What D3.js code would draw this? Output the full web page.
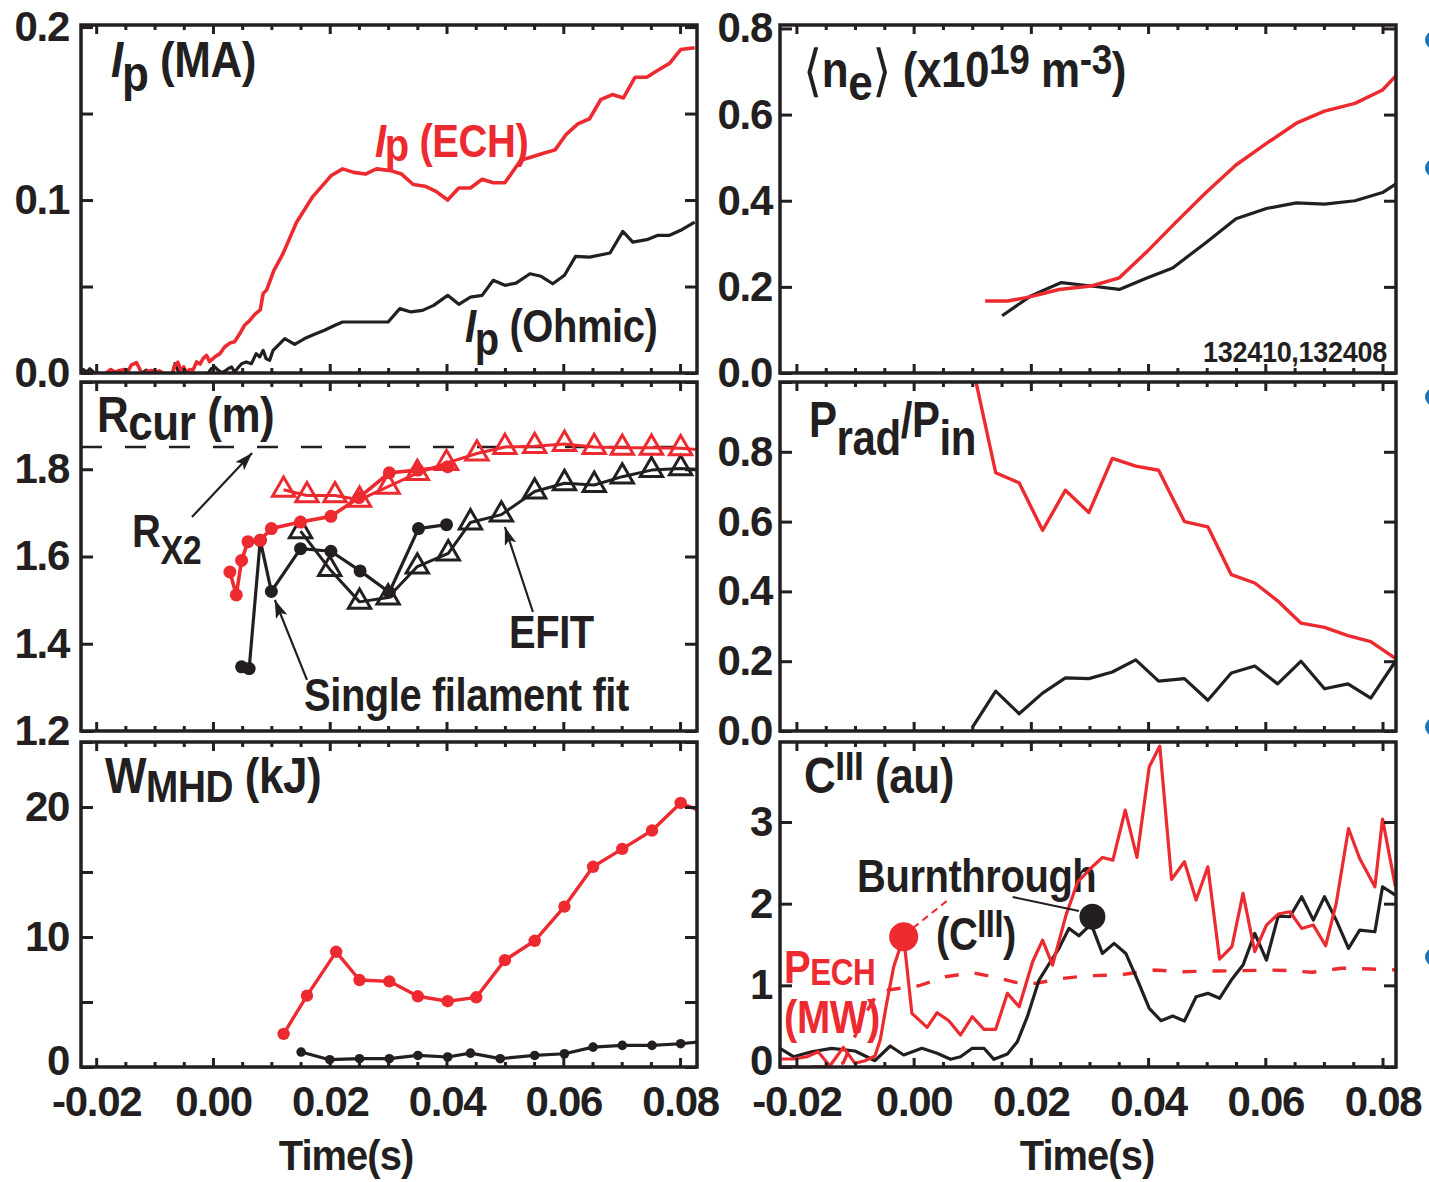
<!DOCTYPE html>
<html lang="en">
<head>
<meta charset="UTF-8">
<title>ECH vs Ohmic startup</title>
<script src="https://d3js.org/d3.v7.min.js"></script>
<style>
  body { margin: 0; background: #fff; }
  svg { display: block; }
  text { font-family: "Liberation Sans", Arial, Helvetica, sans-serif; }
</style>
</head>
<body>
<div id="chart"></div>
<script>
// ---- data: [time (s), value] ----
const ipECH = [[-0.0183,0.000],[-0.0175,0.002],[-0.0168,0.0005],[-0.016,0.0015],[-0.0151,0.002],[-0.0145,0.0012],[-0.014,0.0045],[-0.0131,0.006],[-0.0125,0.002],[-0.012,-0.0015],[-0.0113,0.0008],[-0.0105,0.0015],[-0.0098,0.0004],[-0.0092,0.0012],[-0.0088,0.0005],[-0.0083,-0.0015],[-0.0072,-0.002],[-0.0065,0.0045],[-0.006,0.0062],[-0.0054,0.0008],[-0.005,0.0035],[-0.0046,0.0004],[-0.004,0.002],[-0.0034,0.0018],[-0.0028,0.0064],[-0.0022,0.0052],[-0.0017,0.0083],[-0.0011,0.0102],[-0.0006,0.0066],[0.0003,0.0092],[0.0012,0.0112],[0.002,0.015],[0.0029,0.0173],[0.0037,0.018],[0.0046,0.0228],[0.0054,0.0276],[0.0062,0.030],[0.0072,0.034],[0.0081,0.0365],[0.0086,0.046],[0.0092,0.048],[0.0104,0.059],[0.012,0.069],[0.0143,0.087],[0.0171,0.102],[0.0202,0.114],[0.0222,0.118],[0.0241,0.116],[0.0261,0.115],[0.028,0.118],[0.0304,0.117],[0.0323,0.115],[0.0343,0.109],[0.0363,0.108],[0.0382,0.105],[0.0402,0.100],[0.0421,0.107],[0.0441,0.107],[0.0461,0.112],[0.048,0.110],[0.050,0.110],[0.0527,0.123],[0.0547,0.125],[0.0566,0.127],[0.0586,0.129],[0.0605,0.138],[0.0625,0.144],[0.0645,0.147],[0.0664,0.158],[0.0684,0.161],[0.0703,0.159],[0.0723,0.171],[0.0743,0.171],[0.0762,0.175],[0.0782,0.179],[0.0801,0.187],[0.0825,0.188]];
const ipOhmic = [[-0.0226,0.001],[-0.0222,0.002],[-0.0216,0.0005],[-0.0211,0.0025],[-0.0205,0.0006],[-0.020,-0.002],[-0.0125,-0.002],[-0.0118,0.0008],[-0.0114,0.0016],[-0.011,-0.001],[-0.007,-0.001],[-0.0065,0.0054],[-0.006,0.0016],[-0.0055,-0.001],[-0.001,-0.001],[-0.0003,0.0025],[0.0003,0.0035],[0.0009,0.0016],[0.0015,0.0002],[0.002,0.001],[0.0026,0.0025],[0.0032,0.0035],[0.0037,0.0006],[0.0043,0.003],[0.0049,0.0054],[0.0057,0.0064],[0.0066,0.0054],[0.0074,0.0112],[0.008,0.0093],[0.0086,0.0131],[0.0091,0.0083],[0.0097,0.0073],[0.0103,0.0131],[0.0123,0.0199],[0.014,0.0166],[0.0157,0.0199],[0.0174,0.0224],[0.0191,0.0247],[0.0209,0.0276],[0.0222,0.0295],[0.0265,0.0295],[0.030,0.0295],[0.032,0.0372],[0.0339,0.0353],[0.0359,0.0362],[0.0378,0.0391],[0.0402,0.0449],[0.0421,0.0397],[0.0441,0.0439],[0.0461,0.0449],[0.048,0.0536],[0.050,0.0507],[0.0519,0.052],[0.0543,0.0574],[0.0562,0.0559],[0.0582,0.0516],[0.0602,0.0565],[0.0621,0.0674],[0.0645,0.067],[0.068,0.0694],[0.0702,0.0819],[0.0719,0.0757],[0.0743,0.0771],[0.0762,0.0796],[0.0782,0.0796],[0.0801,0.0825],[0.0825,0.0873]];

const neECH = [[0.0122,0.167],[0.016,0.167],[0.0192,0.175],[0.0216,0.183],[0.0248,0.194],[0.0303,0.202],[0.0351,0.221],[0.0399,0.283],[0.0446,0.348],[0.0498,0.418],[0.055,0.483],[0.0602,0.533],[0.0653,0.580],[0.0701,0.608],[0.0753,0.626],[0.080,0.657],[0.0823,0.690]];
const neOhmic = [[0.0151,0.133],[0.020,0.179],[0.0252,0.210],[0.0303,0.202],[0.0351,0.194],[0.0399,0.221],[0.0442,0.244],[0.0498,0.302],[0.055,0.358],[0.0602,0.382],[0.0653,0.395],[0.0701,0.392],[0.0753,0.400],[0.080,0.419],[0.0823,0.439]];

const rcurFilECH = [[0.0029,1.5645],[0.004,1.512],[0.0049,1.591],[0.006,1.634],[0.0081,1.637],[0.010,1.664],[0.015,1.679],[0.0202,1.692],[0.025,1.735],[0.0302,1.792],[0.0351,1.798],[0.0402,1.806]];
const rcurFilOhmic = [[0.0049,1.347],[0.0062,1.343],[0.0081,1.637],[0.010,1.52],[0.015,1.618],[0.0202,1.612],[0.0252,1.567],[0.0302,1.518],[0.0352,1.664],[0.040,1.673]];
const rcurEfitECH = [[0.0121,1.753],[0.0161,1.74],[0.0209,1.74],[0.0251,1.73],[0.030,1.76],[0.035,1.791],[0.040,1.814],[0.0452,1.836],[0.050,1.851],[0.0551,1.853],[0.0602,1.858],[0.0653,1.851],[0.0701,1.849],[0.0751,1.849],[0.0801,1.848]];
const rcurEfitOhmic = [[0.015,1.658],[0.020,1.571],[0.0251,1.496],[0.030,1.506],[0.035,1.577],[0.0403,1.607],[0.0441,1.678],[0.0494,1.696],[0.0551,1.749],[0.0602,1.768],[0.0653,1.764],[0.0701,1.783],[0.0751,1.798],[0.0801,1.802]];
const rcurEfitTail = { ech: [0.0829,1.845], ohmic: [0.0829,1.800] };
const rX2 = 1.851;

const pradECH = [[0.010,1.05],[0.014,0.74],[0.018,0.711],[0.022,0.575],[0.0259,0.69],[0.0299,0.626],[0.0339,0.781],[0.0379,0.759],[0.0418,0.747],[0.0462,0.60],[0.0502,0.585],[0.0542,0.448],[0.0582,0.424],[0.0621,0.373],[0.0661,0.309],[0.0701,0.297],[0.0741,0.273],[0.078,0.256],[0.0823,0.207]];
const pradOhmic = [[0.010,0.0095],[0.014,0.114],[0.018,0.0495],[0.022,0.1086],[0.0259,0.152],[0.0299,0.15],[0.0339,0.169],[0.0379,0.204],[0.0418,0.143],[0.0462,0.15],[0.0502,0.088],[0.0542,0.166],[0.0582,0.186],[0.0621,0.135],[0.0661,0.20],[0.0701,0.121],[0.0741,0.135],[0.078,0.094],[0.0823,0.202]];

const wmhdECH = [[0.0121,2.55],[0.0161,5.49],[0.0211,8.86],[0.0251,6.69],[0.0302,6.59],[0.0351,5.44],[0.0402,5.06],[0.0451,5.36],[0.050,8.22],[0.0551,9.71],[0.0602,12.34],[0.0651,15.4],[0.0701,16.78],[0.0752,18.19],[0.0801,20.31]];
const wmhdOhmic = [[0.0151,1.15],[0.020,0.56],[0.0251,0.64],[0.0302,0.64],[0.0351,0.89],[0.0402,0.77],[0.0441,1.07],[0.0492,0.64],[0.0551,0.89],[0.0602,1.02],[0.0651,1.53],[0.0701,1.66],[0.0752,1.66],[0.0801,1.79]];
const wmhdTail = { ech: [0.0829,19.8], ohmic: [0.0829,1.92] };

const ciiiECH = [[-0.0225,0.098],[-0.0205,0.098],[-0.0182,0.126],[-0.0163,0.187],[-0.0143,0.012],[-0.012,0.24],[-0.010,0.045],[-0.0083,0.077],[-0.0066,0.134],[-0.0057,0.33],[-0.0046,0.78],[-0.0034,1.228],[-0.0017,1.595],[-0.0003,0.657],[0.0023,0.486],[0.004,0.665],[0.006,0.567],[0.008,0.392],[0.010,0.616],[0.012,0.461],[0.014,0.461],[0.016,0.902],[0.018,0.738],[0.0203,1.289],[0.022,1.554],[0.0237,1.248],[0.026,1.86],[0.028,2.268],[0.0302,2.432],[0.0322,2.566],[0.034,2.534],[0.0361,3.146],[0.0381,2.566],[0.0402,3.676],[0.042,3.93],[0.044,2.297],[0.0462,2.513],[0.0482,2.044],[0.0502,2.452],[0.0522,1.322],[0.0543,1.473],[0.0562,2.126],[0.0582,1.412],[0.0602,1.738],[0.0622,1.873],[0.0642,1.901],[0.0662,1.697],[0.0682,1.738],[0.0703,1.485],[0.0721,2.003],[0.0742,2.92],[0.0761,2.554],[0.0787,2.207],[0.080,3.035],[0.0822,2.207]];
const ciiiOhmic = [[-0.0228,0.229],[-0.0205,0.126],[-0.0174,0.187],[-0.014,0.229],[-0.010,0.196],[-0.0066,0.077],[-0.004,0.257],[-0.0017,0.147],[0.0014,0.229],[0.004,0.168],[0.0063,0.094],[0.008,0.126],[0.010,0.229],[0.012,0.229],[0.0137,0.094],[0.016,0.159],[0.0177,0.31],[0.0194,0.616],[0.0214,1.065],[0.0231,1.261],[0.0248,1.453],[0.0265,1.698],[0.0282,1.607],[0.0303,1.75],[0.0322,1.391],[0.0342,1.514],[0.0362,1.391],[0.0382,1.065],[0.0402,0.718],[0.0422,0.567],[0.0442,0.624],[0.0462,0.563],[0.0482,0.861],[0.0502,0.902],[0.0522,0.841],[0.0542,1.065],[0.0562,1.248],[0.0582,1.636],[0.0602,1.31],[0.0622,1.848],[0.0642,1.84],[0.0662,2.085],[0.0682,1.799],[0.0701,2.085],[0.0721,1.799],[0.0742,1.453],[0.0761,1.677],[0.0787,1.656],[0.080,2.207],[0.0822,2.105]];
const pECH = [[-0.0225,0],[-0.014,0],[-0.012,0.05],[-0.010,0.38],[-0.008,0.68],[-0.006,0.92],[-0.0048,0.94],[0.0009,0.995],[0.0054,1.105],[0.010,1.155],[0.014,1.097],[0.0174,1.036],[0.0208,1.024],[0.0254,1.085],[0.0297,1.118],[0.035,1.126],[0.041,1.187],[0.046,1.167],[0.051,1.175],[0.056,1.18],[0.061,1.187],[0.064,1.18],[0.068,1.16],[0.073,1.21],[0.078,1.2],[0.0822,1.19]];
const burnECH = [-0.0017, 1.595];
const burnOhmic = [0.0305, 1.84];

// ticks
const xMajor = [-0.02, 0, 0.02, 0.04, 0.06, 0.08];
const xMinor = d3.range(-20, 81, 5).filter(v => v % 20 !== 0).map(v => v / 1000);

const RED = '#ec2a2f', BLACK = '#231f20', BLUE = '#1b75bc';
const FONT = '"Liberation Sans", Arial, Helvetica, sans-serif';
const TITLE = { size: 50, sx: 0.88 };   // panel titles
const NOTE = { size: 47, sx: 0.85 };    // annotations

const svg = d3.select('#chart').append('svg').attr('width', 1429).attr('height', 1182);
const defs = svg.append('defs');
defs.append('marker').attr('id', 'ah')
  .attr('viewBox', '0 0 18 12').attr('refX', 18).attr('refY', 6)
  .attr('markerWidth', 18).attr('markerHeight', 12)
  .attr('markerUnits', 'userSpaceOnUse').attr('orient', 'auto')
  .append('path').attr('d', 'M0,0 L18,6 L0,12 L4,6 Z').attr('fill', BLACK);

const cols = [{ x0: 81, x1: 697, dom: [-0.0226, 0.0829], pad: 12 },
              { x0: 780, x1: 1396, dom: [-0.0228, 0.0823], pad: 8 }];
const rows = [{ y0: 25, y1: 373 }, { y0: 382, y1: 731 }, { y0: 742, y1: 1067 }];

let clipN = 0;
function panel(ci, ri, yDom, yTicks, yLabels, yFmt) {
  const c = cols[ci], r = rows[ri];
  const x = d3.scaleLinear().domain(c.dom).range([c.x0, c.x1]);
  const y = d3.scaleLinear().domain(yDom).range([r.y1, r.y0]);
  const id = 'clip' + (clipN++);
  defs.append('clipPath').attr('id', id).append('rect')
    .attr('x', c.x0).attr('y', r.y0).attr('width', c.x1 - c.x0).attr('height', r.y1 - r.y0);
  const text = svg.append('g');
  const plot = svg.append('g').attr('clip-path', `url(#${id})`);
  return { x, y, c, r, text, plot, yTicks, yLabels, yFmt, bottom: ri === 2 };
}

function drawAxes(p) {
  const { x, y, c, r } = p;
  const g = svg.append('g').attr('font-family', FONT);
  const lbl = d => p.yLabels.some(v => Math.abs(v - d) < 1e-9) ? p.yFmt(d) : '';
  const left = g.append('g').attr('transform', `translate(${c.x0},0)`)
    .call(d3.axisLeft(y).tickValues(p.yTicks).tickSize(-12).tickPadding(c.pad).tickFormat(lbl));
  g.append('g').attr('transform', `translate(${c.x1},0)`)
    .call(d3.axisRight(y).tickValues(p.yTicks).tickSize(-12).tickFormat(''));
  g.append('g').attr('transform', `translate(0,${r.y0})`)
    .call(d3.axisTop(x).tickValues(xMinor).tickSize(-5).tickFormat(''));
  g.append('g').attr('transform', `translate(0,${r.y0})`)
    .call(d3.axisTop(x).tickValues(xMajor).tickSize(-9).tickFormat(''));
  g.append('g').attr('transform', `translate(0,${r.y1})`)
    .call(d3.axisBottom(x).tickValues(xMinor).tickSize(-5).tickFormat(''));
  g.append('g').attr('transform', `translate(0,${r.y1})`)
    .call(d3.axisBottom(x).tickValues(xMajor).tickSize(-9).tickPadding(19)
      .tickFormat(p.bottom ? (d => d.toFixed(2)) : ''));
  g.selectAll('.domain').remove();
  g.selectAll('.tick line').attr('stroke', BLACK).attr('stroke-width', 3);
  g.selectAll('.tick text').attr('fill', BLACK).attr('font-size', 42)
    .attr('font-weight', 'bold').attr('letter-spacing', -1.3);
  // bottom-row zero label sits a little higher, clear of the time labels
  if (p.bottom) left.selectAll('.tick text').filter(d => d === y.domain()[0]).attr('dy', '0.18em');
  g.append('rect').attr('x', c.x0).attr('y', r.y0)
    .attr('width', c.x1 - c.x0).attr('height', r.y1 - r.y0)
    .attr('fill', 'none').attr('stroke', BLACK).attr('stroke-width', 3.5);
}

const lineGen = p => d3.line().x(d => p.x(d[0])).y(d => p.y(d[1]));
function line(p, data, color, w, dash) {
  p.plot.append('path').datum(data).attr('d', lineGen(p))
    .attr('fill', 'none').attr('stroke', color).attr('stroke-width', w)
    .attr('stroke-linejoin', 'round').attr('stroke-dasharray', dash || null);
}
function dots(p, data, color, r) {
  p.plot.selectAll(null).data(data).enter().append('circle')
    .attr('cx', d => p.x(d[0])).attr('cy', d => p.y(d[1])).attr('r', r).attr('fill', color);
}
function tris(p, data, color) {
  const sym = d3.symbol().type(d3.symbolTriangle).size(215);
  p.plot.selectAll(null).data(data).enter().append('path')
    .attr('d', sym).attr('transform', d => `translate(${p.x(d[0])},${p.y(d[1])})`)
    .attr('fill', 'none').attr('stroke', color).attr('stroke-width', 3);
}
function arrow(p, from, to) {
  svg.append('line')
    .attr('x1', p.x(from[0])).attr('y1', p.y(from[1]))
    .attr('x2', p.x(to[0])).attr('y2', p.y(to[1]))
    .attr('stroke', BLACK).attr('stroke-width', 2.2).attr('marker-end', 'url(#ah)');
}

// rich text: parts are strings or [string, {dy, size, italic, dx, font, weight}]
function rich(g, x, y, parts, o = {}) {
  const t = g.append('text')
    .attr('transform', `translate(${x},${y}) scale(${o.sx || 0.85},1)`)
    .attr('font-size', o.size || 46).attr('font-weight', 'bold')
    .attr('letter-spacing', o.ls == null ? -0.5 : o.ls)
    .attr('text-anchor', o.anchor || 'start')
    .attr('fill', o.fill || BLACK);
  let cur = 0;
  parts.forEach(part => {
    const [s, opt] = typeof part === 'string' ? [part, {}] : part;
    const off = opt.dy || 0;
    const sp = t.append('tspan').text(s).attr('dy', off - cur);
    cur = off;
    if (opt.size) sp.attr('font-size', opt.size);
    if (opt.italic) sp.attr('font-style', 'italic');
    if (opt.dx) sp.attr('dx', opt.dx);
    if (opt.font) sp.attr('font-family', opt.font);
    if (opt.weight) sp.attr('font-weight', opt.weight);
  });
  return t;
}

// ---- panel 1: Ip ----
const pIp = panel(0, 0, [0, 0.2012], [0, 0.05, 0.1, 0.15, 0.2], [0, 0.1, 0.2], d3.format('.1f'));
rich(pIp.text, 111, 77, [['I', { italic: true }], ['p', { dy: 14, dx: -1 }], [' (MA)', { dy: 0 }]], TITLE);
rich(pIp.text, 375, 157, [['I', { italic: true }], ['p', { dy: 4, dx: -1 }], [' (ECH)', { dy: 0 }]], { ...NOTE, fill: RED });
rich(pIp.text, 465, 342, [['I', { italic: true }], ['p', { dy: 13, dx: -1 }], [' (Ohmic)', { dy: 0 }]], NOTE);
line(pIp, ipOhmic, BLACK, 3.2);
line(pIp, ipECH, RED, 3.6);
drawAxes(pIp);

// ---- panel 2: <ne> ----
const pNe = panel(1, 0, [0, 0.808], [0, 0.2, 0.4, 0.6, 0.8], [0, 0.2, 0.4, 0.6, 0.8], d3.format('.1f'));
rich(pNe.text, 803, 87, [
  ['\u27E8', { font: '"DejaVu Sans"', weight: 'normal', size: 56, dy: 3 }],
  ['n', { dy: 0 }], ['e', { dy: 13 }],
  ['\u27E9', { font: '"DejaVu Sans"', weight: 'normal', size: 56, dy: 3 }],
  [' (x10', { dy: 0 }], ['19', { dy: -13, size: 42 }],
  [' m', { dy: 0 }], ['-3', { dy: -13, size: 42 }], [')', { dy: 0 }]], TITLE);
rich(pNe.text, 1387, 362, ['132410,132408'], { size: 30, sx: 0.9, anchor: 'end', ls: -0.3 });
line(pNe, neOhmic, BLACK, 3.2);
line(pNe, neECH, RED, 3.5);
drawAxes(pNe);

// ---- panel 3: Rcur ----
const pR = panel(0, 1, [1.2, 2.0], [1.2, 1.4, 1.6, 1.8, 2.0], [1.2, 1.4, 1.6, 1.8], d3.format('.1f'));
rich(pR.text, 97, 432, ['R', ['cur', { dy: 8 }], [' (m)', { dy: 0 }]], TITLE);
rich(pR.text, 132, 547, ['R', ['X2', { dy: 17, size: 40 }]], NOTE);
rich(pR.text, 304, 711, ['Single filament fit'], NOTE);
rich(pR.text, 509, 648, ['EFIT'], NOTE);
pR.plot.append('line').attr('x1', pR.c.x0).attr('x2', pR.c.x1)
  .attr('y1', pR.y(rX2)).attr('y2', pR.y(rX2))
  .attr('stroke', BLACK).attr('stroke-width', 2.4).attr('stroke-dasharray', '21,23');
line(pR, rcurEfitOhmic.concat([rcurEfitTail.ohmic]), BLACK, 3);
tris(pR, rcurEfitOhmic, BLACK);
line(pR, rcurFilOhmic, BLACK, 3.2);
dots(pR, rcurFilOhmic, BLACK, 6.5);
line(pR, rcurEfitECH.concat([rcurEfitTail.ech]), RED, 3);
tris(pR, rcurEfitECH, RED);
line(pR, rcurFilECH, RED, 3.6);
dots(pR, rcurFilECH, RED, 6.5);
drawAxes(pR);
arrow(pR, [-0.0036, 1.6905], [0.0067, 1.837]);
arrow(pR, [0.0161, 1.317], [0.0106, 1.5003]);
arrow(pR, [0.0548, 1.4728], [0.0500, 1.6676]);

// ---- panel 4: Prad/Pin ----
const pP = panel(1, 1, [0, 1.0], [0, 0.2, 0.4, 0.6, 0.8, 1.0], [0, 0.2, 0.4, 0.6, 0.8], d3.format('.1f'));
rich(pP.text, 809, 437, ['P', ['rad', { dy: 18 }], ['/', { dy: 0 }], 'P', ['in', { dy: 18 }]], { size: 50, sx: 0.84 });
line(pP, pradOhmic, BLACK, 3.2);
line(pP, pradECH, RED, 3.4);
drawAxes(pP);

// ---- panel 5: WMHD ----
const pW = panel(0, 2, [0, 25], [0, 5, 10, 15, 20, 25], [0, 10, 20], d3.format('d'));
rich(pW.text, 105, 793, ['W', ['MHD', { dy: 9, size: 44 }], [' (kJ)', { dy: 0 }]], TITLE);
line(pW, wmhdOhmic.concat([wmhdTail.ohmic]), BLACK, 3.2);
dots(pW, wmhdOhmic, BLACK, 4.8);
line(pW, wmhdECH.concat([wmhdTail.ech]), RED, 3.4);
dots(pW, wmhdECH, RED, 6.2);
drawAxes(pW);

// ---- panel 6: CIII ----
const pC = panel(1, 2, [0, 3.98], [0, 1, 2, 3], [0, 1, 2, 3], d3.format('d'));
rich(pC.text, 804, 793, ['C', ['III', { dy: -13, size: 40 }], [' (au)', { dy: 0 }]], TITLE);
rich(pC.text, 857, 892, ['Burnthrough'], NOTE);
rich(pC.text, 936, 950, ['(C', ['III', { dy: -13, size: 38 }], [')', { dy: 0 }]], NOTE);
rich(pC.text, 784, 983, ['P', ['ECH', { dy: 2, size: 37 }]], { ...NOTE, fill: RED });
rich(pC.text, 784, 1033, ['(MW)'], { ...NOTE, fill: RED });
line(pC, pECH, RED, 3.4, '14,16');
line(pC, ciiiOhmic, BLACK, 3.2);
line(pC, ciiiECH, RED, 3.2);
// leaders to burnthrough markers
pC.plot.append('line')
  .attr('x1', pC.x(-0.0001)).attr('y1', pC.y(1.702)).attr('x2', pC.x(0.0063)).attr('y2', pC.y(2.07))
  .attr('stroke', RED).attr('stroke-width', 2).attr('stroke-dasharray', '7,5');
pC.plot.append('line')
  .attr('x1', pC.x(0.0169)).attr('y1', pC.y(2.082)).attr('x2', pC.x(0.0282)).attr('y2', pC.y(1.91))
  .attr('stroke', BLACK).attr('stroke-width', 2);
pC.plot.append('circle').attr('cx', pC.x(burnECH[0])).attr('cy', pC.y(burnECH[1])).attr('r', 14.5).attr('fill', RED);
pC.plot.append('circle').attr('cx', pC.x(burnOhmic[0])).attr('cy', pC.y(burnOhmic[1])).attr('r', 13).attr('fill', BLACK);
drawAxes(pC);

// x-axis titles
[pW, pC].forEach((p, i) => {
  rich(svg, i === 0 ? 346 : 1087, 1170, ['Time(s)'], { size: 42, sx: 0.95, anchor: 'middle', ls: -1 });
});

// slide bullets peeking in at the right edge
svg.selectAll(null).data([40, 168, 397, 727, 957]).enter().append('circle')
  .attr('cx', 1434).attr('cy', d => d).attr('r', 9).attr('fill', BLUE);
</script>
</body>
</html>
